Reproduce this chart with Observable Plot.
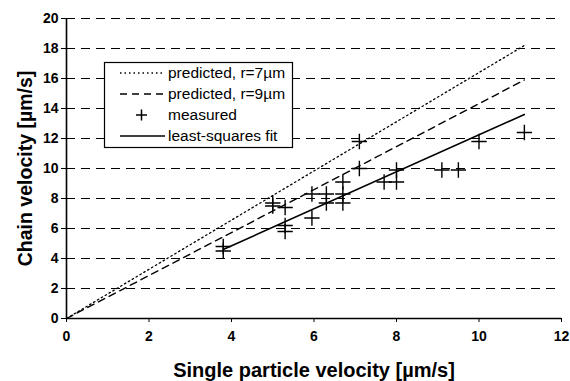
<!DOCTYPE html>
<html><head><meta charset="utf-8">
<script src="https://cdn.jsdelivr.net/npm/d3@7"></script>
<script src="https://cdn.jsdelivr.net/npm/@observablehq/plot@0.6"></script>
<style>body{margin:0;background:#fff;font-family:"Liberation Sans",Arial,sans-serif}</style>
</head><body><div id="chart"></div>
<script>
const measuredX = [3.8,3.8,5.0,5.0,5.3,5.3,5.3,5.95,5.95,6.3,6.3,6.7,6.7,6.7,7.1,7.1,7.7,8.0,8.0,9.1,9.5,10.0,11.1];
const measuredY = [4.8,4.5,7.7,7.5,7.4,6.2,5.8,8.3,6.7,8.3,7.7,9.1,8.3,7.7,11.8,10.0,9.1,9.1,9.9,9.9,9.9,11.8,12.4];
const pred7X = [0, 11.1], pred7Y = [0, 18.2];
const pred9X = [0, 11.1], pred9Y = [0, 15.9];
const fitX = [3.8, 11.1], fitY = [4.6, 13.6];
const xTicks = [0,2,4,6,8,10,12];
const yTicks = [0,2,4,6,8,10,12,14,16,18,20];
const gridY = [2,4,6,8,10,12,14,16,18,20];
const legendLabels = ["predicted, r=7µm","predicted, r=9µm","measured","least-squares fit"];

const measured = measuredX.map((x,i)=>({x, y: measuredY[i]}));
const toPts = (xs, ys) => xs.map((x,i)=>({x, y: ys[i]}));

const chart = Plot.plot({
  width: 570, height: 381,
  marginLeft: 66, marginRight: 9, marginTop: 18, marginBottom: 63,
  style: {fontFamily: '"Liberation Sans", Arial, sans-serif', background: "#fff", color: "#000"},
  x: {domain: [0, 12]},
  y: {domain: [0, 20]},
  marks: [
    Plot.ruleY(gridY, {stroke: "#000", strokeWidth: 1, strokeDasharray: "9,6"}),
    Plot.line(toPts(pred7X, pred7Y), {x: "x", y: "y", stroke: "#000", strokeWidth: 1.3, strokeDasharray: "1.5,3"}),
    Plot.line(toPts(pred9X, pred9Y), {x: "x", y: "y", stroke: "#000", strokeWidth: 1.4, strokeDasharray: "7,5"}),
    Plot.line(toPts(fitX, fitY), {x: "x", y: "y", stroke: "#000", strokeWidth: 1.6}),
    Plot.dot(measured, {x: "x", y: "y", symbol: "plus", r: 5, stroke: "#000", strokeWidth: 1.4}),
    Plot.ruleX([0], {stroke: "#000", strokeWidth: 1.6}),
    Plot.ruleY([0], {stroke: "#000", strokeWidth: 1.6}),
    Plot.axisX({ticks: xTicks, tickSize: 4, tickPadding: 9, fontSize: 14, fontWeight: "bold", label: null}),
    Plot.axisY({ticks: yTicks, tickSize: 5, tickPadding: 3, fontSize: 14, fontWeight: "bold", label: null}),
    Plot.text(["Single particle velocity [µm/s]"], {frameAnchor: "bottom", lineAnchor: "bottom", textAnchor: "middle", dy: 58, fontSize: 20, fontWeight: "bold"}),
    Plot.text(["Chain velocity [µm/s]"], {frameAnchor: "left", textAnchor: "middle", lineAnchor: "middle", dx: -41, rotate: -90, fontSize: 19.5, fontWeight: "bold"})
  ]
});
document.getElementById("chart").appendChild(chart);

// Legend box
const svg = d3.select(chart);
const g = svg.append("g").attr("font-family", '"Liberation Sans", Arial, sans-serif')
  .attr("font-size", 15.5).attr("text-anchor", "start");
g.append("rect").attr("x", 104.5).attr("y", 62.5).attr("width", 188).attr("height", 85)
  .attr("fill", "#fff").attr("stroke", "#000").attr("stroke-width", 1.2);
const rowsY = [73, 94, 115, 136];
const styles = ["1.5,3", "7,5", null, ""];
legendLabels.forEach((lab, i) => {
  const y = rowsY[i];
  if (i === 2) {
    g.append("path").attr("d", `M136,${y}h11M141.5,${y-5.5}v11`).attr("stroke", "#000").attr("stroke-width", 1.5);
  } else {
    g.append("line").attr("x1", 120).attr("x2", 165).attr("y1", y).attr("y2", y)
      .attr("stroke", "#000").attr("stroke-width", i === 3 ? 1.6 : 1.4)
      .attr("stroke-dasharray", styles[i] || null);
  }
  g.append("text").attr("x", 168).attr("y", y).attr("dy", "0.35em").attr("text-anchor", "start").text(lab);
});
</script></body></html>
